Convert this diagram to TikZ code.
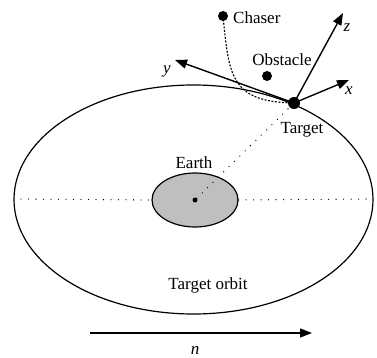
\documentclass[tikz,border=0pt]{standalone}
\usepackage{fontspec}
\setmainfont{Liberation Serif}
\usetikzlibrary{arrows.meta,shapes.geometric}
\begin{document}
\begin{tikzpicture}[x=1pt,y=-1pt,
  lbl/.style={font=\fontsize{17}{20}\selectfont, inner sep=0pt},
  axis/.style={line width=1.4pt, -{Triangle[length=12pt,width=9pt]}},
  blob/.style={circle, fill=black, inner sep=0pt},
  dotline/.style={line width=1.3pt, line cap=round, dash pattern=on 0pt off 7.5pt}]
\useasboundingbox (0,0) rectangle (377,358);
% orbit
\draw[line width=1.2pt] (193.5,199.5) ellipse [x radius=179.5, y radius=114.5];
% Earth
\node[draw, line width=1.2pt, fill=black!25, ellipse, minimum width=86pt, minimum height=54pt, inner sep=0pt] (earth) at (195,200) {};
\node[blob, minimum size=5pt] (ec) at (195,200) {};
% horizontal dotted
\coordinate (hl) at (21,199);
\coordinate (hr) at (370,199);
\draw[dotline] (hl) -- (earth.west);
\draw[dotline] (earth.east) -- (hr);
% nodes
\node[blob, minimum size=12pt] (target) at (294,103) {};
\node[blob, minimum size=10pt] (chaser) at (223,16) {};
\node[blob, minimum size=10pt] (obst) at (267,76) {};
% dotted line earth-target
\draw[dotline] (ec) -- (target);
% axes
\coordinate (zt) at (343,13);
\coordinate (xt) at (349,80);
\coordinate (yt) at (175,60);
\draw[axis] (target.center) -- (zt);
\draw[axis] (target.center) -- (xt);
\draw[axis] (target.center) -- (yt);
% trajectory
\draw[line width=1.1pt, dash pattern=on 2pt off 1.5pt] (chaser.center) .. controls (229,75) and (230,102) .. (target.center);
% labels
\node[lbl, anchor=west] (lch) at (233,18) {Chaser};
\node[lbl] (lob) at (282,60) {Obstacle};
\node[lbl] (lta) at (302,130) {Target};
\node[lbl] (lea) at (194,163) {Earth};
\node[lbl] (lor) at (208,285) {Target orbit};
\node[lbl] (lz) at (347,28) {\textit{z}};
\node[lbl] (lx) at (349,91) {\textit{x}};
\node[lbl] (ly) at (167,71) {\textit{y}};
% n arrow
\coordinate (na) at (90,333);
\coordinate (nb) at (312,333);
\draw[axis, line width=1.3pt] (na) -- (nb);
\node[lbl] (ln) at (195,350) {\textit{n}};
\end{tikzpicture}
\end{document}
